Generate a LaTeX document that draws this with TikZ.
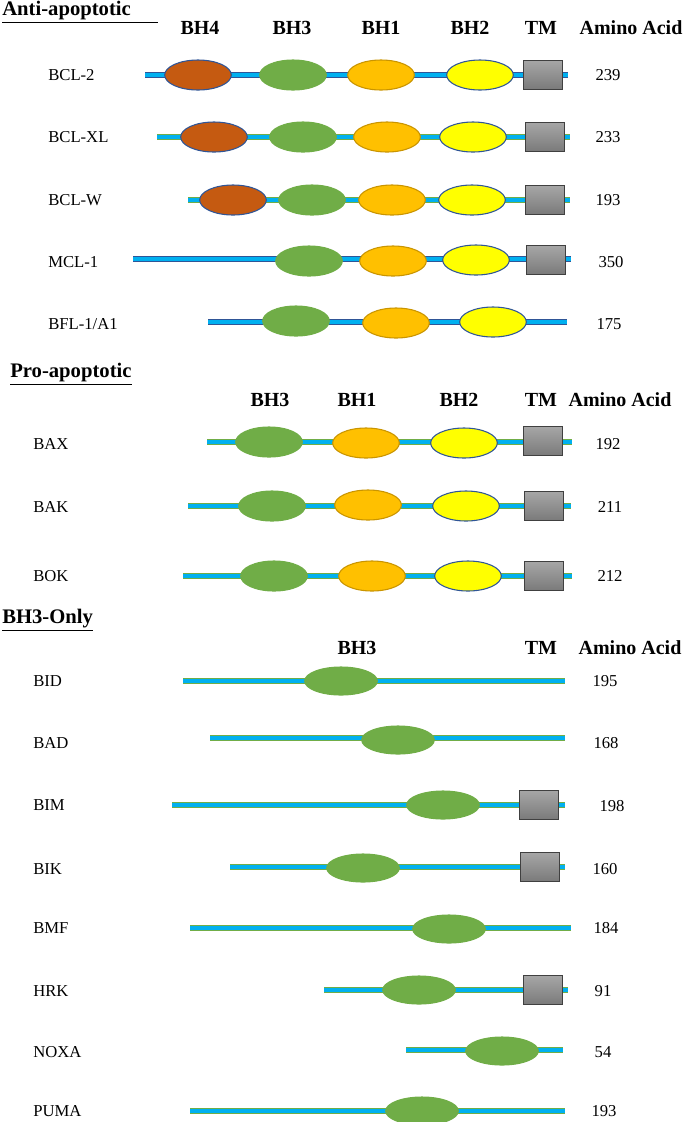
\documentclass[tikz,border=0pt]{standalone}
\usepackage{fontspec}
\setmainfont{Liberation Serif}
\usetikzlibrary{shapes.geometric}

\definecolor{chainBlue}{HTML}{00B0F0}
\definecolor{edgeDark}{HTML}{2F5597}
\definecolor{edgeGreen}{HTML}{70AD47}
\definecolor{bhFour}{HTML}{C55A11}
\definecolor{bhThree}{HTML}{70AD47}
\definecolor{bhOne}{HTML}{FFC000}
\definecolor{bhOneEdge}{HTML}{C99400}
\definecolor{bhTwo}{HTML}{FFFF00}

\begin{document}
\begin{tikzpicture}[x=0.75pt, y=-0.75pt]
            % Set primary styles
            \tikzset{
                chainDark/.style={
                        draw=edgeDark,
                        line width=0.8pt,
                        double=chainBlue,
                        double distance=2.8pt
                    }
            }
            \tikzset{
                chainGreen/.style={
                        draw=edgeGreen,
                        line width=0.8pt,
                        double=chainBlue,
                        double distance=2.8pt
                    }
            }
            \tikzset{
                domainNode/.style={
                        ellipse,
                        inner sep=0pt,
                        line width=0.8pt,
                        minimum width=50pt,
                        minimum height=22.5pt
                    }
            }
            \tikzset{
                bh4Node/.style={domainNode, fill=bhFour, draw=edgeDark},
                bh3Node/.style={domainNode, fill=bhThree, draw=bhThree},
                bh3OnlyNode/.style={domainNode, fill=bhThree, draw=bhThree, minimum width=54.5pt, minimum height=21pt},
                bh1Node/.style={domainNode, fill=bhOne, draw=bhOneEdge},
                bh2Node/.style={domainNode, fill=bhTwo, draw=edgeDark}
            }
            \tikzset{
                tmNode/.style={
                        draw=black!75,
                        line width=0.9pt,
                        rectangle,
                        top color=black!35,
                        bottom color=black!52,
                        minimum width=29pt,
                        minimum height=21.5pt,
                        inner sep=0pt
                    }
            }
            \tikzset{
                nameText/.style={anchor=west, inner sep=0pt, font=\fontsize{12.5}{14}\selectfont},
                aaText/.style={inner sep=0pt, font=\fontsize{12.5}{14}\selectfont},
                headText/.style={inner sep=0pt, font=\fontsize{15}{17}\selectfont\bfseries},
                titleText/.style={anchor=west, inner sep=0pt, font=\fontsize{15.5}{17}\selectfont\bfseries}
            }
            \useasboundingbox (0,0) rectangle (685,1122);

            % Anti-apoptotic block
            \node[titleText] (antiTitle) at (2,12) {\underline{Anti-apoptotic\hspace{1.3em}}};
            \node[headText] (antiBh4) at (200,28) {BH4};
            \node[headText] (antiBh3) at (292,28) {BH3};
            \node[headText] (antiBh1) at (381,28) {BH1};
            \node[headText] (antiBh2) at (470,28) {BH2};
            \node[headText] (antiTm) at (541,28) {TM};
            \node[headText] (antiAa) at (631,28) {Amino Acid};

            % BCL-2
            \coordinate (bcl2Start) at (145,75);
            \coordinate (bcl2End) at (568,75);
            \draw[chainDark] (bcl2Start) -- (bcl2End);
            \node[nameText] (bcl2) at (48,75) {BCL-2};
            \node[bh4Node] (bcl2Bh4) at (198,75) {};
            \node[bh3Node] (bcl2Bh3) at (293,75) {};
            \node[bh1Node] (bcl2Bh1) at (381,75) {};
            \node[bh2Node] (bcl2Bh2) at (480,75) {};
            \node[tmNode] (bcl2Tm) at (543,75) {};
            \node[aaText] (bcl2Aa) at (608,75) {239};

            % BCL-XL
            \coordinate (bclxlStart) at (157,137);
            \coordinate (bclxlEnd) at (570,137);
            \draw[chainGreen] (bclxlStart) -- (bclxlEnd);
            \node[nameText] (bclxl) at (48,137) {BCL-XL};
            \node[bh4Node] (bclxlBh4) at (214,137) {};
            \node[bh3Node] (bclxlBh3) at (303,137) {};
            \node[bh1Node] (bclxlBh1) at (387,137) {};
            \node[bh2Node] (bclxlBh2) at (473,137) {};
            \node[tmNode] (bclxlTm) at (545,137) {};
            \node[aaText] (bclxlAa) at (608,137) {233};

            % BCL-W
            \coordinate (bclwStart) at (188,200);
            \coordinate (bclwEnd) at (570,200);
            \draw[chainGreen] (bclwStart) -- (bclwEnd);
            \node[nameText] (bclw) at (48,200) {BCL-W};
            \node[bh4Node] (bclwBh4) at (233,200) {};
            \node[bh3Node] (bclwBh3) at (312,200) {};
            \node[bh1Node] (bclwBh1) at (392,200) {};
            \node[bh2Node] (bclwBh2) at (472,200) {};
            \node[tmNode] (bclwTm) at (545,200) {};
            \node[aaText] (bclwAa) at (608,200) {193};

            % MCL-1
            \coordinate (mcl1Start) at (133,259);
            \coordinate (mcl1End) at (571,259);
            \draw[chainDark] (mcl1Start) -- (mcl1End);
            \node[nameText] (mcl1) at (48,262) {MCL-1};
            \node[bh3Node] (mcl1Bh3) at (309,261) {};
            \node[bh1Node] (mcl1Bh1) at (393,261) {};
            \node[bh2Node] (mcl1Bh2) at (476,260) {};
            \node[tmNode] (mcl1Tm) at (546,260) {};
            \node[aaText] (mcl1Aa) at (611,262) {350};

            % BFL-1/A1
            \coordinate (bfl1Start) at (208,322);
            \coordinate (bfl1End) at (567,322);
            \draw[chainDark] (bfl1Start) -- (bfl1End);
            \node[nameText] (bfl1) at (48,324) {BFL-1/A1};
            \node[bh3Node] (bfl1Bh3) at (296,321) {};
            \node[bh1Node] (bfl1Bh1) at (396,323) {};
            \node[bh2Node] (bfl1Bh2) at (493,322) {};
            \node[aaText] (bfl1Aa) at (609,324) {175};

            % Pro-apoptotic block
            \node[titleText] (proTitle) at (10,374) {\underline{Pro-apoptotic}};
            \node[headText] (proBh3) at (270,400) {BH3};
            \node[headText] (proBh1) at (357,400) {BH1};
            \node[headText] (proBh2) at (459,400) {BH2};
            \node[headText] (proTm) at (541,400) {TM};
            \node[headText] (proAa) at (620,400) {Amino Acid};

            % BAX
            \coordinate (baxStart) at (207,442);
            \coordinate (baxEnd) at (572,442);
            \draw[chainGreen] (baxStart) -- (baxEnd);
            \node[nameText] (bax) at (33,444) {BAX};
            \node[bh3Node] (baxBh3) at (269,442) {};
            \node[bh1Node] (baxBh1) at (366,443) {};
            \node[bh2Node] (baxBh2) at (464,443) {};
            \node[tmNode] (baxTm) at (543,441) {};
            \node[aaText] (baxAa) at (608,444) {192};

            % BAK
            \coordinate (bakStart) at (188,506);
            \coordinate (bakEnd) at (571,506);
            \draw[chainGreen] (bakStart) -- (bakEnd);
            \node[nameText] (bak) at (33,507) {BAK};
            \node[bh3Node] (bakBh3) at (272,506) {};
            \node[bh1Node] (bakBh1) at (368,505) {};
            \node[bh2Node] (bakBh2) at (466,506) {};
            \node[tmNode] (bakTm) at (544,506) {};
            \node[aaText] (bakAa) at (610,507) {211};

            % BOK
            \coordinate (bokStart) at (183,576);
            \coordinate (bokEnd) at (572,576);
            \draw[chainGreen] (bokStart) -- (bokEnd);
            \node[nameText] (bok) at (33,576) {BOK};
            \node[bh3Node] (bokBh3) at (274,576) {};
            \node[bh1Node] (bokBh1) at (372,576) {};
            \node[bh2Node] (bokBh2) at (468,576) {};
            \node[tmNode] (bokTm) at (544,576) {};
            \node[aaText] (bokAa) at (610,576) {212};

            % BH3-only block
            \node[titleText] (onlyTitle) at (2,620) {\underline{BH3-Only}};
            \node[headText] (onlyBh3) at (357,648) {BH3};
            \node[headText] (onlyTm) at (541,648) {TM};
            \node[headText] (onlyAa) at (630,648) {Amino Acid};

            % BID
            \coordinate (bidStart) at (183,681);
            \coordinate (bidEnd) at (565,681);
            \draw[chainGreen] (bidStart) -- (bidEnd);
            \node[nameText] (bid) at (33,681) {BID};
            \node[bh3OnlyNode] (bidBh3) at (341,681) {};
            \node[aaText] (bidAa) at (605,681) {195};

            % BAD
            \coordinate (badStart) at (210,738);
            \coordinate (badEnd) at (565,738);
            \draw[chainGreen] (badStart) -- (badEnd);
            \node[nameText] (bad) at (33,743) {BAD};
            \node[bh3OnlyNode] (badBh3) at (398,740) {};
            \node[aaText] (badAa) at (606,743) {168};

            % BIM
            \coordinate (bimStart) at (172,805);
            \coordinate (bimEnd) at (565,805);
            \draw[chainGreen] (bimStart) -- (bimEnd);
            \node[nameText] (bim) at (33,805) {BIM};
            \node[bh3OnlyNode] (bimBh3) at (443,805) {};
            \node[tmNode] (bimTm) at (539,805) {};
            \node[aaText] (bimAa) at (612,806) {198};

            % BIK
            \coordinate (bikStart) at (230,867);
            \coordinate (bikEnd) at (565,867);
            \draw[chainGreen] (bikStart) -- (bikEnd);
            \node[nameText] (bik) at (33,869) {BIK};
            \node[bh3OnlyNode] (bikBh3) at (363,868) {};
            \node[tmNode] (bikTm) at (540,867) {};
            \node[aaText] (bikAa) at (605,869) {160};

            % BMF
            \coordinate (bmfStart) at (190,928);
            \coordinate (bmfEnd) at (571,928);
            \draw[chainGreen] (bmfStart) -- (bmfEnd);
            \node[nameText] (bmf) at (33,928) {BMF};
            \node[bh3OnlyNode] (bmfBh3) at (449,929) {};
            \node[aaText] (bmfAa) at (606,928) {184};

            % HRK
            \coordinate (hrkStart) at (324,990);
            \coordinate (hrkEnd) at (568,990);
            \draw[chainGreen] (hrkStart) -- (hrkEnd);
            \node[nameText] (hrk) at (33,991) {HRK};
            \node[bh3OnlyNode] (hrkBh3) at (419,990) {};
            \node[tmNode] (hrkTm) at (543,990) {};
            \node[aaText] (hrkAa) at (603,991) {91};

            % NOXA
            \coordinate (noxaStart) at (406,1050);
            \coordinate (noxaEnd) at (563,1050);
            \draw[chainGreen] (noxaStart) -- (noxaEnd);
            \node[nameText] (noxa) at (33,1052) {NOXA};
            \node[bh3OnlyNode] (noxaBh3) at (502,1051) {};
            \node[aaText] (noxaAa) at (603,1052) {54};

            % PUMA
            \coordinate (pumaStart) at (190,1111);
            \coordinate (pumaEnd) at (565,1111);
            \draw[chainGreen] (pumaStart) -- (pumaEnd);
            \node[nameText] (puma) at (33,1111) {PUMA};
            \node[bh3OnlyNode] (pumaBh3) at (422,1111) {};
            \node[aaText] (pumaAa) at (604,1111) {193};

        \end{tikzpicture}
\end{document}
